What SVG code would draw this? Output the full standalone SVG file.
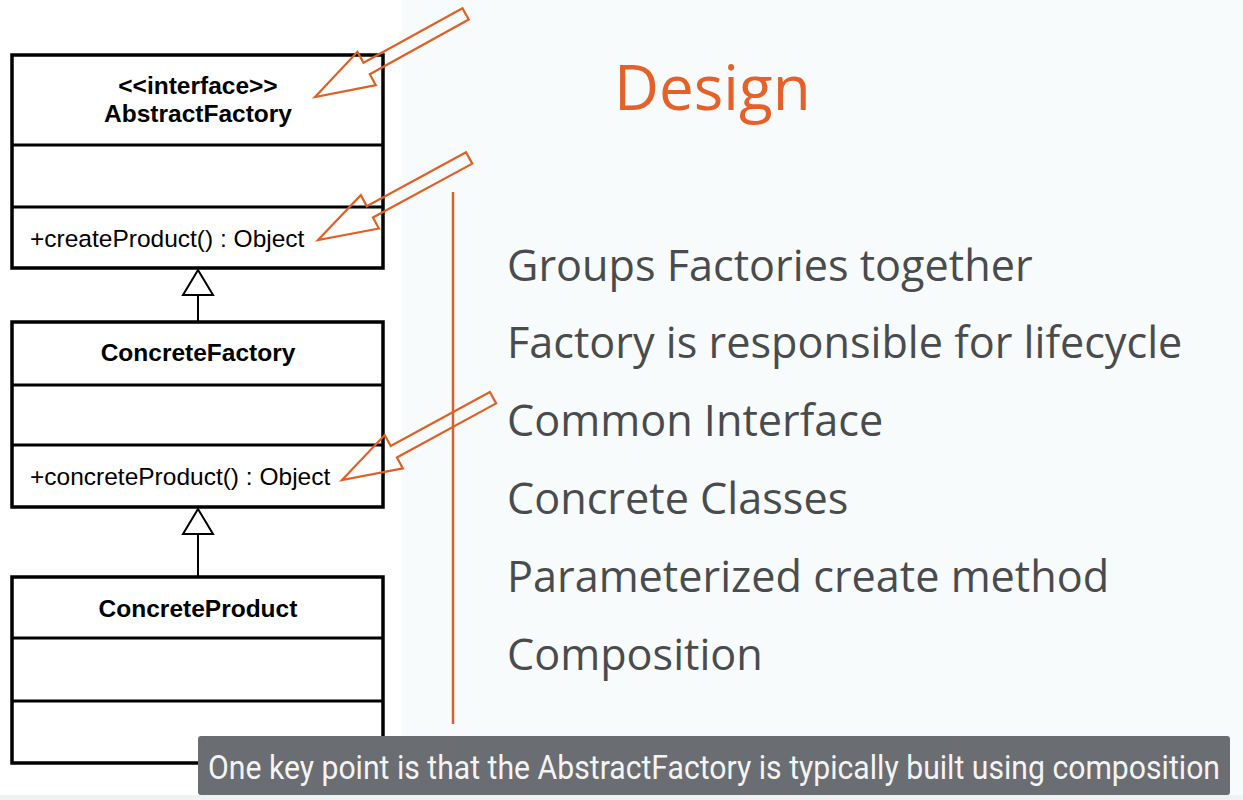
<svg xmlns="http://www.w3.org/2000/svg" width="1243" height="800" viewBox="0 0 1243 800">
  <style>
    .box { fill: #ffffff; stroke: #000000; stroke-width: 3.5; }
    .div { stroke: #000000; stroke-width: 3; }
    .name { font-family: "Liberation Sans", Arial, sans-serif; font-weight: bold; font-size: 24.5px; fill: #000; text-anchor: middle; }
    .op { font-family: "Liberation Sans", Arial, sans-serif; font-size: 24.5px; fill: #000; }
    .gen { fill: #ffffff; stroke: #000000; stroke-width: 2; }
    .link { stroke: #000000; stroke-width: 2; fill: none; }
    .callout { fill: none; stroke: #df5f25; stroke-width: 2.2; stroke-linejoin: miter; }
    .title { font-family: "Open Sans", "Noto Sans", sans-serif; font-size: 62px; fill: #e5612a; }
    .point { font-family: "Open Sans", "Noto Sans", sans-serif; font-size: 43.2px; fill: #4a4b4d; }
    .caption { font-family: Roboto, "Liberation Sans", sans-serif; font-size: 33px; fill: #f4f4f4; }
  </style>
  <defs>
    <!-- hollow block arrow, tip at origin, pointing back along -x -->
    <polygon id="callout" class="callout" points="0,0 59,-19 59,-6.5 172,-6.5 172,6.5 59,6.5 59,19"/>
  </defs>

  <!-- backgrounds -->
  <rect x="0" y="0" width="1243" height="800" fill="#f8fbfb"/>
  <rect x="0" y="0" width="402" height="795" fill="#ffffff"/>
  <rect x="0" y="795" width="1243" height="5" fill="#eef2f2"/>

  <!-- UML classes -->
  <g id="abstract-factory">
    <rect class="box" x="12" y="55" width="371" height="213"/>
    <line class="div" x1="12" y1="145" x2="383" y2="145"/>
    <line class="div" x1="12" y1="207" x2="383" y2="207"/>
    <text class="name" x="198" y="94">&lt;&lt;interface&gt;&gt;</text>
    <text class="name" x="198" y="122">AbstractFactory</text>
    <text class="op" x="30" y="247">+createProduct() : Object</text>
  </g>

  <g id="concrete-factory">
    <rect class="box" x="12" y="322" width="371" height="185"/>
    <line class="div" x1="12" y1="385" x2="383" y2="385"/>
    <line class="div" x1="12" y1="445" x2="383" y2="445"/>
    <text class="name" x="198" y="361">ConcreteFactory</text>
    <text class="op" x="30" y="485">+concreteProduct() : Object</text>
  </g>

  <g id="concrete-product">
    <rect class="box" x="12" y="577" width="371" height="186"/>
    <line class="div" x1="12" y1="638" x2="383" y2="638"/>
    <line class="div" x1="12" y1="701" x2="383" y2="701"/>
    <text class="name" x="198" y="617">ConcreteProduct</text>
  </g>

  <!-- generalization connectors -->
  <g id="connectors">
    <line class="link" x1="198" y1="295" x2="198" y2="322"/>
    <polygon class="gen" points="198,270 183,295 213,295"/>
    <line class="link" x1="198" y1="534" x2="198" y2="577"/>
    <polygon class="gen" points="198,509 183,534 213,534"/>
  </g>

  <!-- divider rule -->
  <line x1="453" y1="192" x2="453" y2="724" stroke="#d9612b" stroke-width="2.5"/>

  <!-- callout arrows -->
  <g id="callouts">
    <use href="#callout" transform="translate(315,97) rotate(-28.9)"/>
    <use href="#callout" transform="translate(318,240) rotate(-28.5)"/>
    <use href="#callout" transform="translate(342,480) rotate(-28.6)"/>
  </g>

  <!-- heading and points -->
  <text class="title" x="614" y="110">Design</text>
  <g id="points">
    <text class="point" x="507" y="281">Groups Factories together</text>
    <text class="point" x="507" y="358">Factory is responsible for lifecycle</text>
    <text class="point" x="507" y="436">Common Interface</text>
    <text class="point" x="507" y="514">Concrete Classes</text>
    <text class="point" x="507" y="592">Parameterized create method</text>
    <text class="point" x="507" y="670">Composition</text>
  </g>

  <!-- caption bar -->
  <g id="caption">
    <rect x="198" y="736" width="1032" height="59" rx="3" fill="#6a6d71"/>
    <text class="caption" x="208" y="779" textLength="1012" lengthAdjust="spacingAndGlyphs">One key point is that the AbstractFactory is typically built using composition</text>
  </g>
</svg>
